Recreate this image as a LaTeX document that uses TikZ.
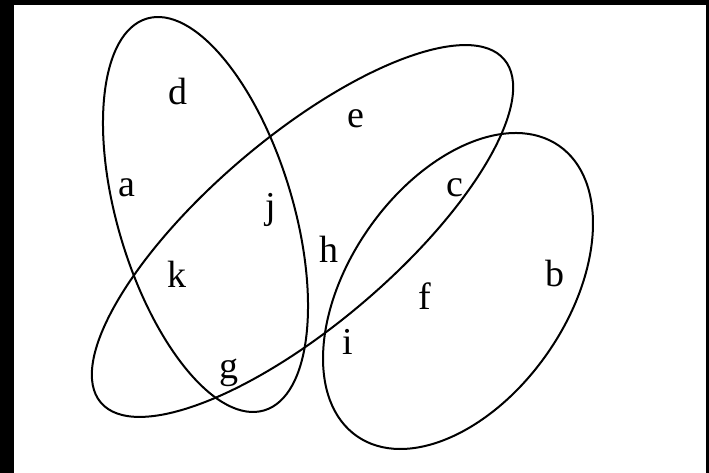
\documentclass[tikz,border=0pt]{standalone}
\usepackage{fontspec}
\setmainfont{Liberation Serif}
\usepackage{tikz}

\begin{document}
\begin{tikzpicture}[x=1pt,y=1pt,line width=2pt,
  lettera/.style={anchor=base,inner sep=0pt,font=\fontsize{38}{44}\selectfont}]
  % cornice
  \fill[black] (0,0) rectangle (709,473);
  \fill[white] (14,0) rectangle (706,468);
  \useasboundingbox (0,0) rectangle (709,473);
  % insiemi
  \draw[shift={(205.5,258.5)},rotate=106.7] (0,0) ellipse [x radius=204.5,y radius=87.7];
  \draw[shift={(302.5,242)},rotate=40.4] (0,0) ellipse [x radius=264.8,y radius=93.8];
  \draw[shift={(458,182)},rotate=55.15] (0,0) ellipse [x radius=176.9,y radius=109];
  % etichette
  \foreach \n/\p in {d/{(178,368)}, a/{(127,276)}, j/{(271,254)}, e/{(356,345)},
                     k/{(177,185)}, g/{(229,94)}, h/{(329,210)}, i/{(348,118)},
                     f/{(425,163)}, c/{(455,276)}, b/{(555,186)}}
     \node[lettera] (\n) at \p {\n};
\end{tikzpicture}
\end{document}
